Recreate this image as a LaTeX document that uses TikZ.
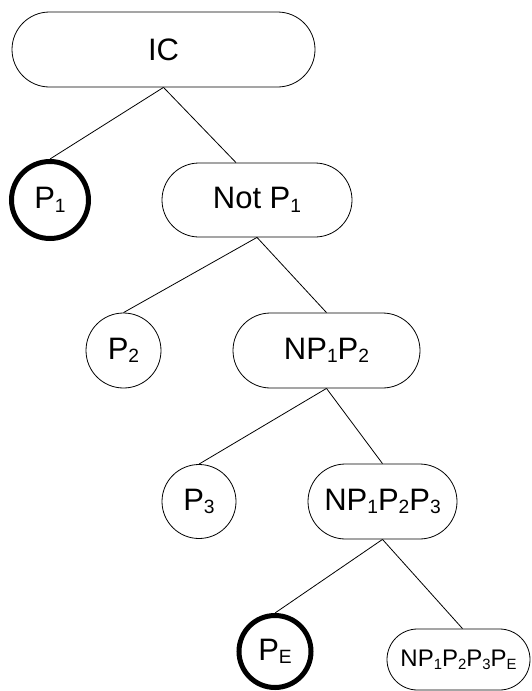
\documentclass[tikz,border=0pt]{standalone}
\usepackage{fontspec}
\setmainfont{Liberation Sans}
\usetikzlibrary{shapes.misc}
\newcommand\subs[1]{\raisebox{-0.11em}{\scalebox{0.62}{#1}}}
\tikzset{
  pill/.style={rounded rectangle, draw, line width=0.8pt, minimum height=75pt, inner sep=0pt, font=\fontsize{31}{31}\selectfont},
  leaf/.style={circle, draw, line width=0.8pt, minimum size=75pt, inner sep=0pt, font=\fontsize{31}{31}\selectfont},
  goal/.style={leaf, line width=5pt, minimum size=73pt},
  link/.style={line width=0.8pt}
}
\begin{document}
\begin{tikzpicture}[x=1pt,y=1pt]
\useasboundingbox (0,0) rectangle (531,-691);
\node[pill, minimum width=303pt] (ic) at (163.5,-49.5) {IC};
\node[goal, minimum size=77pt] (p1) at (50,-200) {P\subs{1}};
\node[pill, minimum width=190pt, minimum height=74pt] (np1) at (257,-200) {Not P\subs{1}};
\node[leaf] (p2) at (123.5,-350.5) {P\subs{2}};
\node[pill, minimum width=187pt] (np12) at (326.5,-350.5) {NP\subs{1}P\subs{2}};
\node[leaf, minimum size=74pt] (p3) at (199,-501.5) {P\subs{3}};
\node[pill, minimum width=149pt] (np123) at (382.5,-501.5) {NP\subs{1}P\subs{2}P\subs{3}};
\node[goal, minimum size=72pt] (pe) at (275,-651.5) {P\subs{E}};
\node[pill, minimum width=143pt, minimum height=61pt, font=\fontsize{24}{24}\selectfont] (np123e) at (458.5,-659.5) {NP\subs{1}P\subs{2}P\subs{3}P\subs{E}};
\draw[link] (ic.south) -- (p1.north);
\draw[link] (ic.south) -- ([xshift=-21pt]np1.north);
\draw[link] (np1.south) -- (p2.north);
\draw[link] (np1.south) -- (np12.north);
\draw[link] (np12.south) -- (p3.north);
\draw[link] (np12.south) -- (np123.north);
\draw[link] (np123.south) -- (pe.north);
\draw[link] (np123.south) -- ([xshift=4pt]np123e.north);
\end{tikzpicture}
\end{document}
